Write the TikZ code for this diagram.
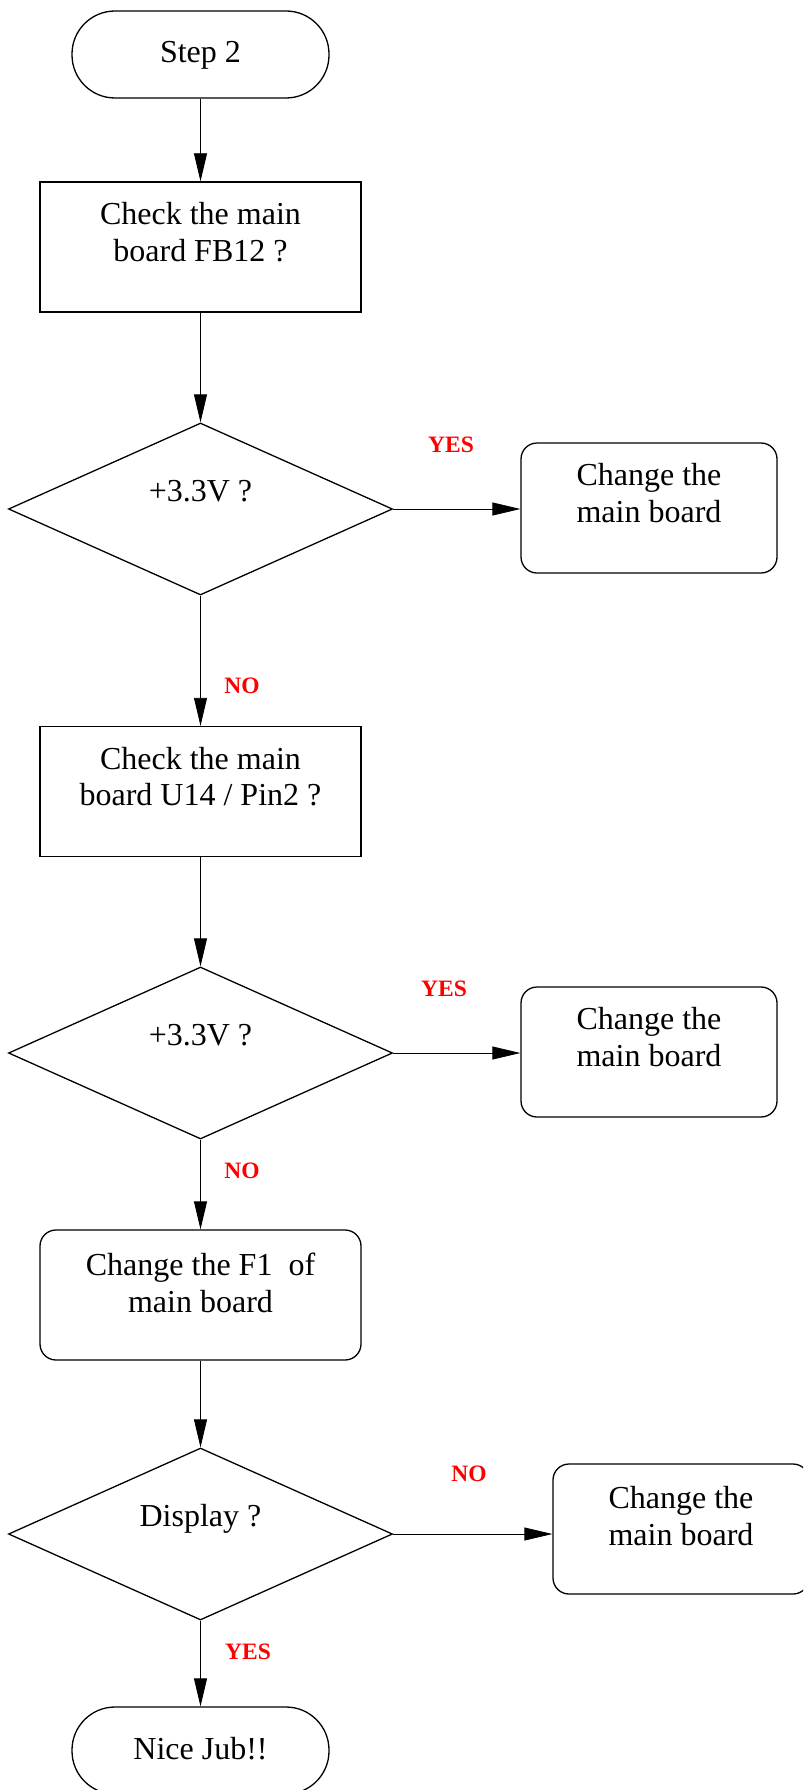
\documentclass[tikz,border=0pt]{standalone}
\usepackage{fontspec}
\setmainfont{Liberation Serif}
\usetikzlibrary{shapes.geometric,arrows.meta}
\begin{document}
\begin{tikzpicture}[x=1pt,y=-1pt,
  shp/.style={draw=black,line width=1.3pt,inner sep=0pt,minimum width=321pt,minimum height=130pt},
  boxsq/.style={shp,rectangle},
  boxrd/.style={shp,rectangle,rounded corners=16pt},
  rbox/.style={shp,rectangle,rounded corners=16pt,minimum width=256pt},
  term/.style={draw=black,line width=1.3pt,rectangle,rounded corners=43pt,minimum width=257pt,minimum height=87pt,inner sep=0pt},
  dia/.style={draw=black,line width=1.3pt,diamond,minimum width=384pt,minimum height=172pt,inner sep=0pt},
  txt/.style={font=\fontsize{32}{36.7}\selectfont,align=center,inner sep=0pt},
  lbl/.style={font=\fontsize{23.5}{28}\selectfont\bfseries,text=red,inner sep=0pt},
  conn/.style={line width=0.8pt,-{Triangle[length=28pt,width=13pt]}}]

\path[clip] (0,0) rectangle (803,1790);
\fill[white] (0,0) rectangle (803,1790);

% column
\node[term] (start) at (200.5,54.5) {};
\node[txt,anchor=base] (startT) at ([yshift=-8pt]start.center) {Step 2};

\node[boxsq] (b1) at (200.5,247) {};
\node[txt] (b1T) at ([yshift=15pt]b1.center) {Check the main\\board FB12 ?};

\node[dia] (d1) at (200.5,509) {};
\node[txt,anchor=base] (d1T) at ([yshift=8pt]d1.center) {+3.3V ?};

\node[rbox] (r1) at (649,508) {};
\node[txt] (r1T) at ([yshift=15pt]r1.center) {Change the\\main board};

\node[boxsq] (b2) at (200.5,791.5) {};
\node[txt] (b2T) at ([yshift=15pt]b2.center) {Check the main\\board U14 / Pin2 ?};

\node[dia] (d2) at (200.5,1053) {};
\node[txt,anchor=base] (d2T) at ([yshift=8pt]d2.center) {+3.3V ?};

\node[rbox] (r2) at (649,1052) {};
\node[txt] (r2T) at ([yshift=15pt]r2.center) {Change the\\main board};

\node[boxrd] (b3) at (200.5,1295) {};
\node[txt] (b3T) at ([yshift=12pt]b3.center) {Change the F1~ of\\main board};

\node[dia] (d3) at (200.5,1534) {};
\node[txt,anchor=base] (d3T) at ([yshift=8pt]d3.center) {Display ?};

\node[rbox] (r3) at (681,1529) {};
\node[txt] (r3T) at ([yshift=13pt]r3.center) {Change the\\main board};

\node[term] (end) at (200.5,1750.5) {};
\node[txt,anchor=base] (endT) at ([yshift=-8.5pt]end.center) {Nice Jub!!};

% connectors
\draw[conn] (start.south) -- (b1.north);
\draw[conn] (b1.south) -- (d1.north);
\draw[conn] (d1.east) -- (d1.east -| r1.west);
\draw[conn] (d1.south) -- (b2.north);
\draw[conn] (b2.south) -- (d2.north);
\draw[conn] (d2.east) -- (d2.east -| r2.west);
\draw[conn] (d2.south) -- (b3.north);
\draw[conn] (b3.south) -- (d3.north);
\draw[conn] (d3.east) -- (d3.east -| r3.west);
\draw[conn] (d3.south) -- (end.north);

% labels
\node[lbl] (y1) at (451,445) {YES};
\node[lbl] (n1) at (242,686) {NO};
\node[lbl] (y2) at (444,989) {YES};
\node[lbl] (n2) at (242,1171) {NO};
\node[lbl] (n3) at (469,1474) {NO};
\node[lbl] (y3) at (248,1652) {YES};
\end{tikzpicture}
\end{document}
